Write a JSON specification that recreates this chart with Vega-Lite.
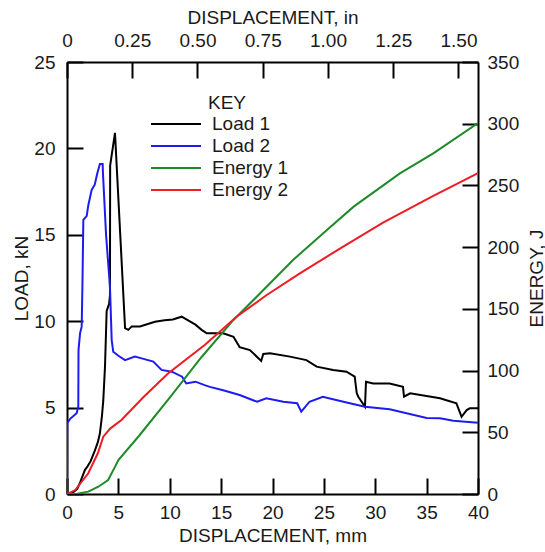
{
  "$schema": "https://vega.github.io/schema/vega-lite/v6.json",
  "width": 411,
  "height": 432,
  "autosize": {"type": "none"},
  "padding": {"left": 67, "top": 62, "right": 67, "bottom": 58},
  "background": "white",
  "config": {
    "font": "Liberation Sans",
    "view": {"stroke": null},
    "axis": {
      "grid": false,
      "domainColor": "#000000",
      "domainWidth": 2,
      "tickColor": "#000000",
      "tickWidth": 2,
      "tickSize": -16,
      "labelFontSize": 19,
      "labelColor": "#1a1a1a",
      "labelFont": "Liberation Sans",
      "titleFont": "Liberation Sans",
      "titleFontSize": 19,
      "titleFontWeight": "normal",
      "titleColor": "#1a1a1a",
      "labelFlush": false,
      "labelOverlap": false
    },
    "legend": {
      "orient": "none",
      "legendX": 98,
      "legendY": 32,
      "padding": 0,
      "titleFont": "Liberation Sans",
      "labelFont": "Liberation Sans",
      "titleFontSize": 19,
      "titleFontWeight": "normal",
      "titleColor": "#1a1a1a",
      "labelFontSize": 19,
      "labelColor": "#1a1a1a",
      "symbolType": "M-2.5,0H2.5",
      "symbolSize": 400,
      "symbolStrokeWidth": 2,
      "rowPadding": 1,
      "titlePadding": 0,
      "labelOffset": 25,
      "titleAnchor": "middle"
    }
  },
  "datasets": {
    "load": [
      {"series": "Load 1", "mm": 0, "kN": 0},
      {"series": "Load 1", "mm": 0.5, "kN": 0.05},
      {"series": "Load 1", "mm": 1.0, "kN": 0.3},
      {"series": "Load 1", "mm": 1.3, "kN": 0.7},
      {"series": "Load 1", "mm": 1.75, "kN": 1.4},
      {"series": "Load 1", "mm": 2.0, "kN": 1.6},
      {"series": "Load 1", "mm": 2.3, "kN": 1.9},
      {"series": "Load 1", "mm": 2.7, "kN": 2.5},
      {"series": "Load 1", "mm": 3.0, "kN": 3.0},
      {"series": "Load 1", "mm": 3.2, "kN": 3.5},
      {"series": "Load 1", "mm": 3.4, "kN": 4.5},
      {"series": "Load 1", "mm": 3.53, "kN": 5.4},
      {"series": "Load 1", "mm": 3.7, "kN": 7.4},
      {"series": "Load 1", "mm": 3.86, "kN": 10.6},
      {"series": "Load 1", "mm": 4.1, "kN": 11.0},
      {"series": "Load 1", "mm": 4.18, "kN": 11.5},
      {"series": "Load 1", "mm": 4.2, "kN": 19.0},
      {"series": "Load 1", "mm": 4.67, "kN": 20.9},
      {"series": "Load 1", "mm": 5.2, "kN": 14.8},
      {"series": "Load 1", "mm": 5.65, "kN": 9.6},
      {"series": "Load 1", "mm": 5.97, "kN": 9.5},
      {"series": "Load 1", "mm": 6.3, "kN": 9.7},
      {"series": "Load 1", "mm": 7.1, "kN": 9.7},
      {"series": "Load 1", "mm": 8.56, "kN": 9.97},
      {"series": "Load 1", "mm": 9.5, "kN": 10.05},
      {"series": "Load 1", "mm": 10.3, "kN": 10.1},
      {"series": "Load 1", "mm": 11.16, "kN": 10.26},
      {"series": "Load 1", "mm": 12.0, "kN": 9.97},
      {"series": "Load 1", "mm": 12.5, "kN": 9.8},
      {"series": "Load 1", "mm": 13.1, "kN": 9.5},
      {"series": "Load 1", "mm": 13.6, "kN": 9.3},
      {"series": "Load 1", "mm": 15.2, "kN": 9.3},
      {"series": "Load 1", "mm": 16.2, "kN": 9.1},
      {"series": "Load 1", "mm": 16.8, "kN": 8.5},
      {"series": "Load 1", "mm": 17.8, "kN": 8.33},
      {"series": "Load 1", "mm": 18.9, "kN": 7.7},
      {"series": "Load 1", "mm": 19.1, "kN": 8.1},
      {"series": "Load 1", "mm": 19.76, "kN": 8.14},
      {"series": "Load 1", "mm": 21.7, "kN": 7.95},
      {"series": "Load 1", "mm": 23.3, "kN": 7.75},
      {"series": "Load 1", "mm": 24.3, "kN": 7.37},
      {"series": "Load 1", "mm": 25.9, "kN": 7.18},
      {"series": "Load 1", "mm": 27.2, "kN": 7.08},
      {"series": "Load 1", "mm": 28.0, "kN": 6.79},
      {"series": "Load 1", "mm": 28.2, "kN": 5.83},
      {"series": "Load 1", "mm": 28.35, "kN": 5.63},
      {"series": "Load 1", "mm": 29.0, "kN": 5.05},
      {"series": "Load 1", "mm": 29.1, "kN": 6.5},
      {"series": "Load 1", "mm": 29.8, "kN": 6.4},
      {"series": "Load 1", "mm": 31.4, "kN": 6.4},
      {"series": "Load 1", "mm": 32.7, "kN": 6.2},
      {"series": "Load 1", "mm": 32.8, "kN": 5.63},
      {"series": "Load 1", "mm": 33.4, "kN": 5.83},
      {"series": "Load 1", "mm": 36.3, "kN": 5.54},
      {"series": "Load 1", "mm": 37.9, "kN": 5.25},
      {"series": "Load 1", "mm": 38.4, "kN": 4.47},
      {"series": "Load 1", "mm": 38.9, "kN": 4.86},
      {"series": "Load 1", "mm": 39.2, "kN": 4.96},
      {"series": "Load 1", "mm": 40, "kN": 4.96},
      {"series": "Load 2", "mm": 0, "kN": 0},
      {"series": "Load 2", "mm": 0.02, "kN": 4.1},
      {"series": "Load 2", "mm": 0.3, "kN": 4.35},
      {"series": "Load 2", "mm": 0.94, "kN": 4.67},
      {"series": "Load 2", "mm": 1.1, "kN": 5.05},
      {"series": "Load 2", "mm": 1.12, "kN": 8.33},
      {"series": "Load 2", "mm": 1.27, "kN": 9.3},
      {"series": "Load 2", "mm": 1.43, "kN": 9.7},
      {"series": "Load 2", "mm": 1.5, "kN": 12.0},
      {"series": "Load 2", "mm": 1.59, "kN": 15.86},
      {"series": "Load 2", "mm": 1.92, "kN": 16.1},
      {"series": "Load 2", "mm": 2.07, "kN": 16.7},
      {"series": "Load 2", "mm": 2.4, "kN": 17.6},
      {"series": "Load 2", "mm": 2.7, "kN": 17.9},
      {"series": "Load 2", "mm": 2.95, "kN": 18.56},
      {"series": "Load 2", "mm": 3.2, "kN": 19.1},
      {"series": "Load 2", "mm": 3.47, "kN": 19.1},
      {"series": "Load 2", "mm": 3.5, "kN": 18.56},
      {"series": "Load 2", "mm": 3.8, "kN": 15.0},
      {"series": "Load 2", "mm": 4.18, "kN": 12.0},
      {"series": "Load 2", "mm": 4.35, "kN": 8.9},
      {"series": "Load 2", "mm": 4.5, "kN": 8.23},
      {"series": "Load 2", "mm": 5.0, "kN": 8.0},
      {"series": "Load 2", "mm": 5.65, "kN": 7.75},
      {"series": "Load 2", "mm": 6.6, "kN": 7.95},
      {"series": "Load 2", "mm": 7.27, "kN": 7.85},
      {"series": "Load 2", "mm": 8.4, "kN": 7.66},
      {"series": "Load 2", "mm": 9.2, "kN": 7.18},
      {"series": "Load 2", "mm": 10.2, "kN": 7.08},
      {"series": "Load 2", "mm": 11.2, "kN": 6.79},
      {"series": "Load 2", "mm": 11.6, "kN": 6.4},
      {"series": "Load 2", "mm": 12.5, "kN": 6.5},
      {"series": "Load 2", "mm": 13.4, "kN": 6.3},
      {"series": "Load 2", "mm": 13.9, "kN": 6.2},
      {"series": "Load 2", "mm": 15.2, "kN": 6.0},
      {"series": "Load 2", "mm": 16.8, "kN": 5.73},
      {"series": "Load 2", "mm": 18.5, "kN": 5.34},
      {"series": "Load 2", "mm": 19.4, "kN": 5.54},
      {"series": "Load 2", "mm": 21.05, "kN": 5.34},
      {"series": "Load 2", "mm": 22.4, "kN": 5.25},
      {"series": "Load 2", "mm": 22.8, "kN": 4.76},
      {"series": "Load 2", "mm": 23.6, "kN": 5.34},
      {"series": "Load 2", "mm": 24.9, "kN": 5.63},
      {"series": "Load 2", "mm": 26.9, "kN": 5.34},
      {"series": "Load 2", "mm": 29.0, "kN": 5.05},
      {"series": "Load 2", "mm": 31.4, "kN": 4.9},
      {"series": "Load 2", "mm": 35.0, "kN": 4.4},
      {"series": "Load 2", "mm": 36.3, "kN": 4.38},
      {"series": "Load 2", "mm": 37.6, "kN": 4.24},
      {"series": "Load 2", "mm": 40, "kN": 4.13}
    ],
    "energy": [
      {"series": "Energy 1", "mm": 0, "J": 0},
      {"series": "Energy 1", "mm": 1.0, "J": 0.3},
      {"series": "Energy 1", "mm": 2.07, "J": 1.9},
      {"series": "Energy 1", "mm": 3.05, "J": 5.9},
      {"series": "Energy 1", "mm": 4.0, "J": 11.3},
      {"series": "Energy 1", "mm": 4.67, "J": 22},
      {"series": "Energy 1", "mm": 5.0, "J": 27.5},
      {"series": "Energy 1", "mm": 7.0, "J": 47},
      {"series": "Energy 1", "mm": 10.0, "J": 78},
      {"series": "Energy 1", "mm": 13.1, "J": 111},
      {"series": "Energy 1", "mm": 16.2, "J": 141},
      {"series": "Energy 1", "mm": 18.8, "J": 162.6},
      {"series": "Energy 1", "mm": 22.0, "J": 189.6},
      {"series": "Energy 1", "mm": 25.3, "J": 213.9},
      {"series": "Energy 1", "mm": 27.9, "J": 232.8},
      {"series": "Energy 1", "mm": 32.4, "J": 259.8},
      {"series": "Energy 1", "mm": 35.65, "J": 276},
      {"series": "Energy 1", "mm": 40, "J": 300.5},
      {"series": "Energy 2", "mm": 0, "J": 0},
      {"series": "Energy 2", "mm": 0.8, "J": 3.2},
      {"series": "Energy 2", "mm": 2.07, "J": 16.8},
      {"series": "Energy 2", "mm": 3.0, "J": 33},
      {"series": "Energy 2", "mm": 3.53, "J": 46.4},
      {"series": "Energy 2", "mm": 4.2, "J": 53},
      {"series": "Energy 2", "mm": 5.3, "J": 60},
      {"series": "Energy 2", "mm": 7.5, "J": 79},
      {"series": "Energy 2", "mm": 9.86, "J": 97.8},
      {"series": "Energy 2", "mm": 13.4, "J": 120.7},
      {"series": "Energy 2", "mm": 16.5, "J": 143.6},
      {"series": "Energy 2", "mm": 19.4, "J": 161},
      {"series": "Energy 2", "mm": 22.7, "J": 179},
      {"series": "Energy 2", "mm": 26.6, "J": 199},
      {"series": "Energy 2", "mm": 30.8, "J": 220},
      {"series": "Energy 2", "mm": 35.65, "J": 241.5},
      {"series": "Energy 2", "mm": 40, "J": 260}
    ]
  },
  "layer": [
    {
      "data": {"name": "load"},
      "mark": {"type": "line", "strokeWidth": 2, "clip": true},
      "encoding": {
        "x": {
          "field": "mm",
          "type": "quantitative",
          "scale": {"domain": [0, 40], "nice": false, "zero": false},
          "axis": {
            "orient": "bottom",
            "title": "DISPLACEMENT, mm",
            "values": [0, 5, 10, 15, 20, 25, 30, 35, 40],
            "labelPadding": 25,
            "titlePadding": 4
          }
        },
        "y": {
          "field": "kN",
          "type": "quantitative",
          "scale": {"domain": [0, 25], "nice": false},
          "axis": {
            "orient": "left",
            "title": "LOAD, kN",
            "values": [0, 5, 10, 15, 20, 25],
            "labelPadding": 28,
            "titlePadding": 2
          }
        },
        "color": {
          "field": "series",
          "type": "nominal",
          "scale": {
            "domain": ["Load 1", "Load 2", "Energy 1", "Energy 2"],
            "range": ["#000000", "#1c1cf0", "#1e8a28", "#ee1c24"]
          },
          "legend": {"title": "KEY"}
        }
      }
    },
    {
      "data": {"name": "energy"},
      "mark": {"type": "line", "strokeWidth": 2, "clip": true},
      "encoding": {
        "x": {
          "field": "mm",
          "type": "quantitative",
          "scale": {"domain": [0, 40], "nice": false, "zero": false},
          "axis": {
            "orient": "top",
            "title": "DISPLACEMENT, in",
            "values": [0, 6.35, 12.7, 19.05, 25.4, 31.75, 38.1],
            "labelExpr": "datum.value == 0 ? '0' : format(datum.value / 25.4, '.2f')",
            "labelPadding": 28,
            "titlePadding": 4
          }
        },
        "y": {
          "field": "J",
          "type": "quantitative",
          "scale": {"domain": [0, 350], "nice": false},
          "axis": {
            "orient": "right",
            "title": "ENERGY, J",
            "titleAngle": 270,
            "titleX": 58,
            "titleY": 216,
            "titleAlign": "center",
            "titleBaseline": "middle",
            "values": [0, 50, 100, 150, 200, 250, 300, 350],
            "labelPadding": 25
          }
        },
        "color": {
          "field": "series",
          "type": "nominal",
          "scale": {
            "domain": ["Load 1", "Load 2", "Energy 1", "Energy 2"],
            "range": ["#000000", "#1c1cf0", "#1e8a28", "#ee1c24"]
          },
          "legend": {"title": "KEY"}
        }
      }
    }
  ],
  "resolve": {"scale": {"y": "independent"}, "axis": {"x": "independent"}}
}
